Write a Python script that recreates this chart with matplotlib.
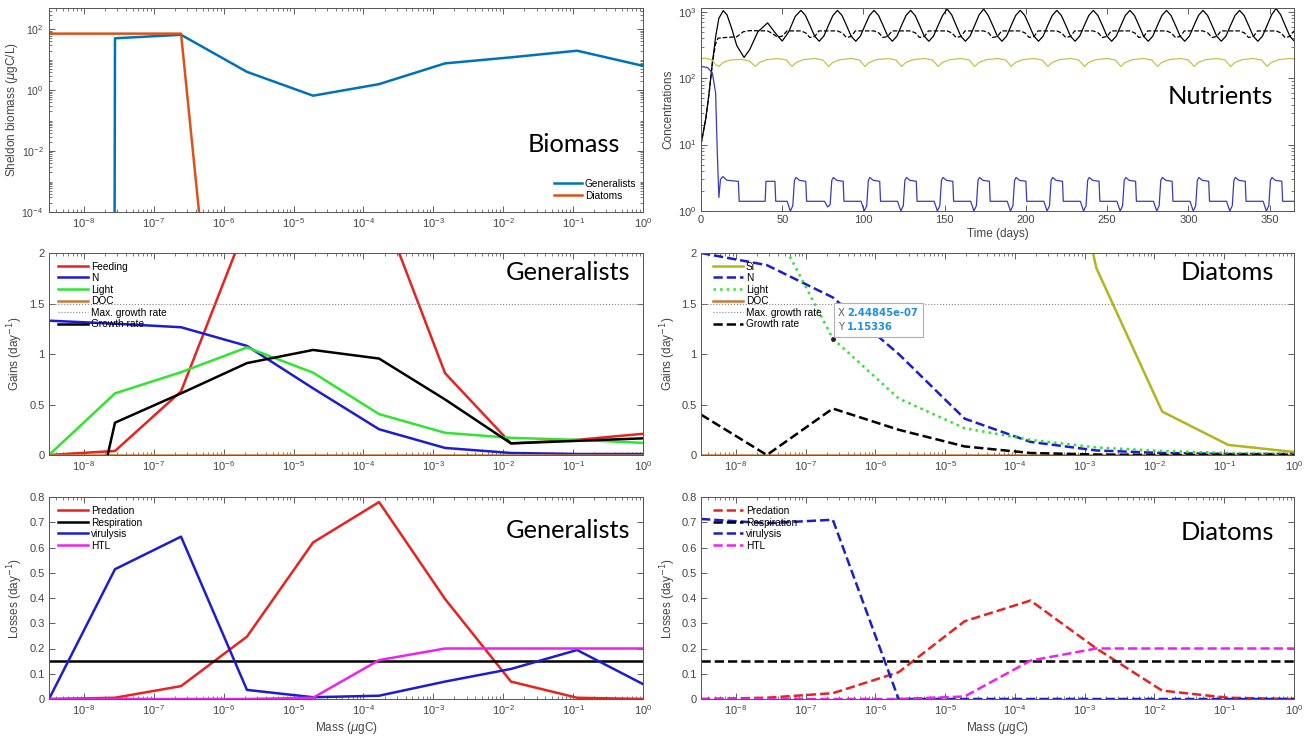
import matplotlib.pyplot as plt
from matplotlib.patches import Rectangle
from matplotlib.ticker import LogLocator, NullFormatter

plt.rcParams['font.family'] = ['Liberation Sans', 'DejaVu Sans']
plt.rcParams['mathtext.fontset'] = 'dejavusans'

# ---- data ----
mass = [3.16e-9, 2.78e-8, 2.45e-7, 2.15e-6, 1.90e-5, 1.67e-4, 1.47e-3, 1.29e-2, 1.14e-1, 1.0]
mass_ticks = [1e-8, 1e-7, 1e-6, 1e-5, 1e-4, 1e-3, 1e-2, 1e-1, 1e0]

bio_gen = [0, 50.6, 66, 4.0, 0.66, 1.58, 7.6, 12, 19.8, 6.3]
bio_dia = [72, 72, 72, 2.5e-20, 0, 0, 0, 0, 0, 0]

g_feed = [0, 0.04, 0.63, 2.3, 3.5, 2.52, 0.81, 0.115, 0.15, 0.21]
g_n = [1.33, 1.30, 1.265, 1.08, 0.66, 0.255, 0.07, 0.02, 0.01, 0.01]
g_light = [0, 0.61, 0.82, 1.065, 0.815, 0.405, 0.22, 0.17, 0.15, 0.12]
g_doc = [0, 0, 0, 0, 0, 0, 0, 0, 0, 0]
g_growth = [-2.56, 0.32, 0.61, 0.91, 1.04, 0.955, 0.55, 0.115, 0.14, 0.165]

d_si = [40, 30, 20, 12, 8, 4.8, 1.85, 0.43, 0.10, 0.03]
d_n = [2.0, 1.88, 1.56, 1.0, 0.36, 0.13, 0.045, 0.02, 0.01, 0.01]
d_light = [3.0, 2.40, 1.153, 0.56, 0.265, 0.15, 0.075, 0.04, 0.02, 0.01]
d_doc = [0, 0, 0, 0, 0, 0, 0, 0, 0, 0]
d_growth = [0.40, 0.0, 0.46, 0.25, 0.085, 0.02, 0.005, 0, 0, 0]
max_growth = 1.5

gl_pred = [0, 0.005, 0.051, 0.247, 0.62, 0.78, 0.396, 0.069, 0.005, 0]
gl_resp = [0.15, 0.15, 0.15, 0.15, 0.15, 0.15, 0.15, 0.15, 0.15, 0.15]
gl_viru = [0, 0.514, 0.643, 0.036, 0.007, 0.013, 0.069, 0.119, 0.194, 0.059]
gl_htl = [0, 0, 0, 0, 0.005, 0.154, 0.2, 0.2, 0.2, 0.2]

dl_pred = [0, 0.005, 0.023, 0.106, 0.308, 0.39, 0.2, 0.033, 0.005, 0]
dl_resp = [0.15, 0.15, 0.15, 0.15, 0.15, 0.15, 0.15, 0.15, 0.15, 0.15]
dl_viru = [0.713, 0.696, 0.71, 0, 0, 0, 0, 0, 0, 0]
dl_htl = [0, 0, 0, 0, 0.01, 0.152, 0.2, 0.2, 0.2, 0.2]

tip_x, tip_y = 2.44845e-07, 1.15336

# nutrients: time (days) and concentration, black solid line
t_a = [0, 3, 5, 7, 9, 11, 13.7, 16, 19, 22, 26.5, 30, 35, 41, 46, 50, 54, 58,
       61.5, 64.3, 67.1, 69.9, 72.75, 75.6, 78.4, 81.2,
       84, 86.8, 89.6, 92.4, 95.25, 98.1, 100.9, 103.7,
       106.5, 109.3, 112.1, 114.9, 117.75, 120.6, 123.4, 126.2,
       129, 131.8, 134.6, 137.4, 140.25, 143.1, 145.9, 148.7,
       151.5, 154.3, 157.1, 159.9, 162.75, 165.6, 168.4, 171.2,
       174, 176.8, 179.6, 182.4, 185.25, 188.1, 190.9, 193.7,
       196.5, 199.3, 202.1, 204.9, 207.75, 210.6, 213.4, 216.2,
       219, 221.8, 224.6, 227.4, 230.25, 233.1, 235.9, 238.7,
       241.5, 244.3, 247.1, 249.9, 252.75, 255.6, 258.4, 261.2,
       264, 266.8, 269.6, 272.4, 275.25, 278.1, 280.9, 283.7,
       286.5, 289.3, 292.1, 294.9, 297.75, 300.6, 303.4, 306.2,
       309, 311.8, 314.6, 317.4, 320.25, 323.1, 325.9, 328.7,
       331.5, 334.3, 337.1, 339.9, 342.75, 345.6, 348.4, 351.2,
       354, 356.8, 359.6, 362.4, 365]
c_a = [10, 25, 60, 170, 420, 800, 1040, 900, 550, 310, 205, 270, 500, 680, 470, 362, 500, 850,
       1050, 880, 620, 430, 360, 430, 620, 880,
       1050, 880, 620, 430, 360, 430, 620, 880,
       1050, 880, 620, 430, 360, 430, 620, 880,
       1050, 880, 620, 430, 360, 430, 620, 880,
       1100, 900, 620, 430, 360, 430, 620, 900,
       1100, 880, 620, 430, 360, 430, 620, 880,
       1050, 880, 620, 430, 360, 430, 620, 880,
       1050, 880, 620, 430, 360, 430, 620, 880,
       1050, 880, 620, 430, 360, 430, 620, 880,
       1050, 880, 620, 430, 360, 430, 620, 880,
       1050, 880, 620, 430, 360, 430, 620, 880,
       1050, 880, 620, 430, 360, 430, 620, 880,
       1050, 880, 620, 430, 360, 430, 620, 900,
       1120, 900, 620, 430, 365]

# black dashed line
t_b = [0, 3, 5, 7, 9, 10.5, 15, 22, 26, 30, 41, 44, 47, 50, 53,
       61.5, 64.5, 67, 70, 72.5, 84, 87, 89.5, 92.5, 95,
       106.5, 109.5, 112, 115, 117.5, 129, 132, 134.5, 137.5, 140,
       151.5, 154.5, 157, 160, 162.5, 174, 177, 179.5, 182.5, 185,
       196.5, 199.5, 202, 205, 207.5, 219, 222, 224.5, 227.5, 230,
       241.5, 244.5, 247, 250, 252.5, 264, 267, 269.5, 272.5, 275,
       286.5, 289.5, 292, 295, 297.5, 309, 312, 314.5, 317.5, 320,
       331.5, 334.5, 337, 340, 342.5, 354, 357, 359.5, 362.5, 365]
c_b = [10, 25, 60, 170, 330, 400, 410, 420, 500, 520, 515, 470, 415, 430, 515,
       515, 480, 410, 425, 515, 515, 480, 410, 425, 515,
       515, 480, 410, 425, 515, 515, 480, 410, 425, 515,
       515, 480, 410, 425, 515, 515, 480, 410, 425, 515,
       515, 480, 410, 425, 515, 515, 480, 410, 425, 515,
       515, 480, 410, 425, 515, 515, 480, 410, 425, 515,
       515, 480, 410, 425, 515, 515, 480, 410, 425, 515,
       515, 480, 410, 425, 515, 515, 480, 410, 425, 515]

# olive line
t_c = [0, 4, 7, 9, 11, 13.5, 18, 25, 30, 33.5, 36, 40.5, 47.5, 52.5,
       56, 58.5, 63, 70, 75, 78.5, 81, 85.5, 92.5, 97.5,
       101, 103.5, 108, 115, 120, 123.5, 126, 130.5, 137.5, 142.5,
       146, 148.5, 153, 160, 165, 168.5, 171, 175.5, 182.5, 187.5,
       191, 193.5, 198, 205, 210, 213.5, 216, 220.5, 227.5, 232.5,
       236, 238.5, 243, 250, 255, 258.5, 261, 265.5, 272.5, 277.5,
       281, 283.5, 288, 295, 300, 303.5, 306, 310.5, 317.5, 322.5,
       326, 328.5, 333, 340, 345, 348.5, 351, 355.5, 362.5, 365]
c_c = [200, 198, 185, 160, 150, 172, 188, 192, 180, 150, 172, 190, 198, 188,
       150, 172, 190, 198, 188, 150, 172, 190, 198, 188,
       150, 172, 190, 198, 188, 150, 172, 190, 198, 188,
       150, 172, 190, 198, 188, 150, 172, 190, 198, 188,
       150, 172, 190, 198, 188, 150, 172, 190, 198, 188,
       150, 172, 190, 198, 188, 150, 172, 190, 198, 188,
       150, 172, 190, 198, 188, 150, 172, 190, 198, 188,
       150, 172, 190, 198, 188, 150, 172, 190, 198, 196]

# blue line
t_d = [0, 4, 7, 9, 10, 11, 12, 13.5, 16, 23, 23.5, 39.5, 40, 45.5, 46,
       53, 55, 56.5, 57.5, 58.5, 60.5, 64.5, 65,
       76, 78, 79.5, 80.5, 81.5, 83.5, 87.5, 88,
       98.5, 100.5, 102, 103, 104, 106, 110, 110.5,
       121, 123, 124.5, 125.5, 126.5, 128.5, 132.5, 133,
       143.5, 145.5, 147, 148, 149, 151, 155, 155.5,
       166, 168, 169.5, 170.5, 171.5, 173.5, 177.5, 178,
       188.5, 190.5, 192, 193, 194, 196, 200, 200.5,
       211, 213, 214.5, 215.5, 216.5, 218.5, 222.5, 223,
       233.5, 235.5, 237, 238, 239, 241, 245, 245.5,
       256, 258, 259.5, 260.5, 261.5, 263.5, 267.5, 268,
       278.5, 280.5, 282, 283, 284, 286, 290, 290.5,
       301, 303, 304.5, 305.5, 306.5, 308.5, 312.5, 313,
       323.5, 325.5, 327, 328, 329, 331, 335, 335.5,
       346, 348, 349.5, 350.5, 351.5, 353.5, 357.5, 358, 365]
c_d = [150, 145, 120, 60, 8, 1.6, 3.0, 3.3, 2.9, 2.8, 1.4, 1.4, 2.8, 2.8, 1.4,
       1.4, 1.0, 1.2, 2.9, 3.2, 2.9, 2.8, 1.4,
       1.4, 1.15, 1.25, 2.9, 3.2, 2.9, 2.8, 1.4,
       1.4, 1.0, 1.2, 2.9, 3.2, 2.9, 2.8, 1.4,
       1.4, 1.0, 1.2, 2.9, 3.2, 2.9, 2.8, 1.4,
       1.4, 1.0, 1.2, 2.9, 3.2, 2.9, 2.8, 1.4,
       1.4, 1.0, 1.2, 2.9, 3.2, 2.9, 2.8, 1.4,
       1.4, 1.0, 1.2, 2.9, 3.2, 2.9, 2.8, 1.4,
       1.4, 1.0, 1.2, 2.9, 3.2, 2.9, 2.8, 1.4,
       1.4, 1.0, 1.2, 2.9, 3.2, 2.9, 2.8, 1.4,
       1.4, 1.0, 1.2, 2.9, 3.2, 2.9, 2.8, 1.4,
       1.4, 1.0, 1.2, 2.9, 3.2, 2.9, 2.8, 1.4,
       1.4, 1.0, 1.2, 2.9, 3.2, 2.9, 2.8, 1.4,
       1.4, 1.0, 1.2, 2.9, 3.2, 2.9, 2.8, 1.4,
       1.4, 1.0, 1.2, 2.9, 3.2, 2.9, 2.8, 1.4, 1.4]

# ---- figure ----
W, H = 1307, 740
fig = plt.figure(figsize=(W / 100, H / 100), dpi=100)
GREY = '#454545'


def box(x0, y0, x1, y1):
    return [x0 / W, 1 - y1 / H, (x1 - x0) / W, (y1 - y0) / H]


def style(ax):
    ax.tick_params(which='both', direction='in', top=True, right=True,
                   colors=GREY, labelsize=8, pad=3)
    ax.tick_params(which='major', length=4, width=0.6)
    ax.tick_params(which='minor', length=2, width=0.5)
    for s in ax.spines.values():
        s.set_color('#555555')
        s.set_linewidth(0.7)


def ylab(ax, text, x_px, left):
    ax.set_ylabel(text, fontsize=8.5, color=GREY)
    ax.yaxis.set_label_coords((x_px - left) / 594, 0.5)


def mass_axis(ax):
    ax.set_xscale('log')
    ax.set_xlim(mass[0], mass[-1])
    ax.set_xticks(mass_ticks)
    ax.xaxis.set_minor_locator(LogLocator(base=10, subs=range(2, 10), numticks=200))
    ax.xaxis.set_minor_formatter(NullFormatter())


def big(x, y, s):
    fig.text(x / W, 1 - y / H, s, fontsize=18.3, family='Lato', ha='center', va='center', color='black')


leg_kw = dict(frameon=False, fontsize=7.3, handlelength=3.0, handletextpad=0.25,
              labelspacing=0.15, borderpad=0, borderaxespad=0, loc='upper left')

C_GEN, C_DIA = '#0072BD', '#D95319'
RED, BLUE, GREEN, BROWN = '#e8221e', '#1c1cd2', '#2ee62e', '#c87a3a'
BLACK, MAG, OLIVE = 'black', '#ee22ee', '#b4b41e'

# Biomass
ax = fig.add_axes(box(49, 8, 643, 212))
style(ax)
ax.plot(mass, bio_gen, color=C_GEN, lw=1.8, label='Generalists')
ax.plot(mass, bio_dia, color=C_DIA, lw=1.8, label='Diatoms')
ax.set_yscale('log')
mass_axis(ax)
ax.set_ylim(1e-4, 500)
ax.set_yticks([1e-4, 1e-2, 1e0, 1e2])
ax.yaxis.set_minor_locator(LogLocator(base=10, subs=range(1, 10), numticks=200))
ax.yaxis.set_minor_formatter(NullFormatter())
ax.tick_params(axis='y', pad=4, labelsize=7.6)
ylab(ax, r'Sheldon biomass ($\mu$gC/L)', 20, 49)
ax.legend(bbox_to_anchor=(554 / W, 1 - 179 / H), bbox_transform=fig.transFigure,
          **dict(leg_kw, handlelength=2.8))
big(574, 145, 'Biomass')

# Nutrients
ax = fig.add_axes(box(701, 8, 1294, 211))
style(ax)
ax.plot(t_a, c_a, color=BLACK, lw=0.9)
ax.plot(t_b, c_b, color=BLACK, lw=0.9, ls='--')
ax.plot(t_c, c_c, color='#c4c448', lw=0.9)
ax.plot(t_d, c_d, color='#3a3ac0', lw=0.9)
ax.set_yscale('log')
ax.set_xlim(0, 365)
ax.set_ylim(1, 1140)
ax.set_xticks(range(0, 351, 50))
ax.set_yticks([1, 10, 100, 1000])
ax.yaxis.set_minor_locator(LogLocator(base=10, subs=range(2, 10), numticks=200))
ax.yaxis.set_minor_formatter(NullFormatter())
ylab(ax, 'Concentrations', 674, 701)
ax.set_xlabel('Time (days)', fontsize=8.5, color=GREY, labelpad=2)
big(1220, 97, 'Nutrients')

# Gains generalists
ax = fig.add_axes(box(49, 253, 643, 455))
style(ax)
ax.plot(mass, g_feed, color=RED, lw=1.8, label='Feeding')
ax.plot(mass, g_n, color=BLUE, lw=1.8, label='N')
ax.plot(mass, g_light, color=GREEN, lw=1.8, label='Light')
ax.plot(mass, g_doc, color=BROWN, lw=1.8, label='DOC')
ax.axhline(max_growth, color='#888888', lw=0.8, ls=':', label='Max. growth rate')
ax.plot(mass, g_growth, color=BLACK, lw=1.8, label='Growth rate')
mass_axis(ax)
ax.set_ylim(0, 2)
ax.set_yticks([0, 0.5, 1, 1.5, 2])
ax.set_yticklabels(['0', '0.5', '1', '1.5', '2'])
ylab(ax, r'Gains (day$^{-1}$)', 25, 49)
ax.legend(bbox_to_anchor=(58 / W, 1 - 261.5 / H), bbox_transform=fig.transFigure, **leg_kw)
big(568, 272, 'Generalists')

# Gains diatoms
ax = fig.add_axes(box(701, 253, 1294, 455))
style(ax)
ax.plot(mass, d_si, color=OLIVE, lw=1.8, label='Si')
ax.plot(mass, d_n, color=BLUE, lw=1.8, ls='--', label='N')
ax.plot(mass, d_light, color=GREEN, lw=1.8, ls=':', label='Light')
ax.plot(mass, d_doc, color=BROWN, lw=1.8, label='DOC')
ax.axhline(max_growth, color='#888888', lw=0.8, ls=':', label='Max. growth rate')
ax.plot(mass, d_growth, color=BLACK, lw=1.8, ls='--', label='Growth rate')
mass_axis(ax)
ax.set_ylim(0, 2)
ax.set_yticks([0, 0.5, 1, 1.5, 2])
ax.set_yticklabels(['0', '0.5', '1', '1.5', '2'])
ylab(ax, r'Gains (day$^{-1}$)', 678, 701)
ax.legend(bbox_to_anchor=(713 / W, 1 - 261.5 / H), bbox_transform=fig.transFigure, **leg_kw)
ax.plot([tip_x], [tip_y], 'o', color='#222222', ms=2.5, zorder=5)
big(1227, 273, 'Diatoms')

# data tip box
fig.add_artist(Rectangle((834 / W, 1 - 337 / H), 89 / W, 34 / H, transform=fig.transFigure,
                         fc='white', ec='#b0b0b0', lw=0.8, zorder=10))
for label, val, yy in [('X', tip_x, 312.5), ('Y', tip_y, 326.5)]:
    fig.text(838 / W, 1 - yy / H, label, fontsize=7.2, color='#606060', family='DejaVu Sans',
             va='center', ha='left', zorder=11)
    fig.text(847 / W, 1 - yy / H, f'{val:g}', fontsize=7.2, color='#1f8fdc', family='DejaVu Sans',
             weight='bold', va='center', ha='left', zorder=11)

# Losses generalists
ax = fig.add_axes(box(49, 497, 643, 699))
style(ax)
ax.plot(mass, gl_pred, color=RED, lw=1.8, label='Predation')
ax.plot(mass, gl_resp, color=BLACK, lw=1.8, label='Respiration')
ax.plot(mass, gl_viru, color=BLUE, lw=1.8, label='virulysis')
ax.plot(mass, gl_htl, color=MAG, lw=1.8, label='HTL')
mass_axis(ax)
ax.set_ylim(0, 0.8)
ax.set_yticks([0, 0.1, 0.2, 0.3, 0.4, 0.5, 0.6, 0.7, 0.8])
ax.set_yticklabels(['0', '0.1', '0.2', '0.3', '0.4', '0.5', '0.6', '0.7', '0.8'])
ylab(ax, r'Losses (day$^{-1}$)', 25, 49)
ax.set_xlabel(r'Mass ($\mu$gC)', fontsize=8.5, color=GREY, labelpad=2)
ax.legend(bbox_to_anchor=(58 / W, 1 - 506 / H), bbox_transform=fig.transFigure, **leg_kw)
big(568, 530, 'Generalists')

# Losses diatoms
ax = fig.add_axes(box(701, 497, 1294, 699))
style(ax)
ax.plot(mass, dl_pred, color=RED, lw=1.8, ls='--', label='Predation')
ax.plot(mass, dl_resp, color=BLACK, lw=1.8, ls='--', label='Respiration')
ax.plot(mass, dl_viru, color=BLUE, lw=1.8, ls='--', label='virulysis')
ax.plot(mass, dl_htl, color=MAG, lw=1.8, ls='--', label='HTL')
mass_axis(ax)
ax.set_ylim(0, 0.8)
ax.set_yticks([0, 0.1, 0.2, 0.3, 0.4, 0.5, 0.6, 0.7, 0.8])
ax.set_yticklabels(['0', '0.1', '0.2', '0.3', '0.4', '0.5', '0.6', '0.7', '0.8'])
ylab(ax, r'Losses (day$^{-1}$)', 678, 701)
ax.set_xlabel(r'Mass ($\mu$gC)', fontsize=8.5, color=GREY, labelpad=2)
ax.legend(bbox_to_anchor=(713 / W, 1 - 506 / H), bbox_transform=fig.transFigure, **leg_kw)
big(1227, 532, 'Diatoms')

fig.savefig('out.png', dpi=100)
